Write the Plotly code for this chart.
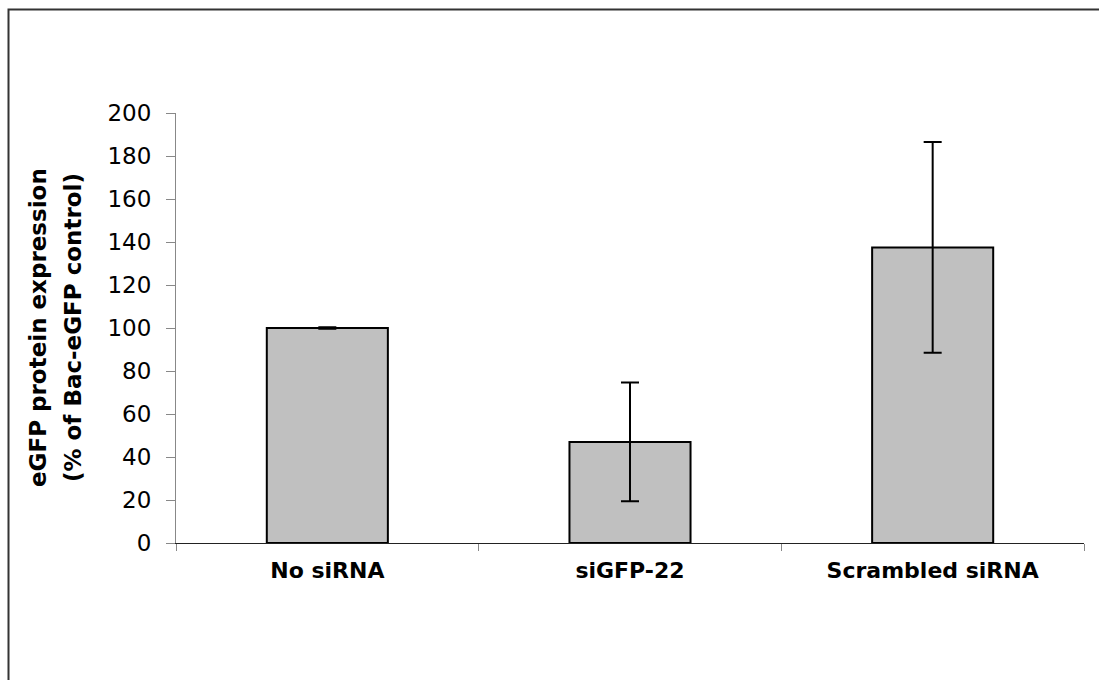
import plotly.graph_objects as go

categories = ["No siRNA", "siGFP-22", "Scrambled siRNA"]
values = [100, 47, 137.5]
errors = [0.3, 27.6, 49]
y_ticks = [0, 20, 40, 60, 80, 100, 120, 140, 160, 180, 200]
y_title_lines = ["eGFP protein expression", "(% of Bac-eGFP control)"]

FONT = "DejaVu Sans"

fig = go.Figure()
fig.add_trace(go.Bar(
    x=categories,
    y=values,
    width=0.4,
    marker=dict(color="#c0c0c0", line=dict(color="black", width=2)),
    error_y=dict(type="data", array=errors, visible=True,
                 color="black", thickness=2, width=9),
    showlegend=False,
))

title_x_px = [38, 73]
annotations = [
    dict(
        text="<b>%s</b>" % line, textangle=-90,
        xref="paper", yref="paper",
        x=(px - 176) / 908, y=0.5,
        xanchor="center", yanchor="middle",
        showarrow=False,
        font=dict(family=FONT, size=23, color="black"),
    )
    for line, px in zip(y_title_lines, title_x_px)
]

fig.update_layout(
    width=1099, height=680,
    margin=dict(l=176, r=15, t=113, b=137),
    paper_bgcolor="white", plot_bgcolor="white",
    font=dict(family=FONT, color="black"),
    xaxis=dict(
        type="category",
        range=[-0.5, 2.5],
        showline=True, linecolor="#222", linewidth=1,
        ticks="outside", tickson="boundaries", ticklen=7,
        tickcolor="#888", tickwidth=1,
        tickfont=dict(family=FONT, size=22, weight="bold", color="black"),
        ticklabelstandoff=8,
        showgrid=False, zeroline=False,
    ),
    yaxis=dict(
        range=[0, 200],
        tickvals=y_ticks,
        showline=True, linecolor="#888", linewidth=1,
        ticks="outside", ticklen=9, tickcolor="#888", tickwidth=1,
        tickfont=dict(family=FONT, size=23, color="black"),
        ticklabelstandoff=10,
        showgrid=False, zeroline=False,
    ),
    annotations=annotations,
    shapes=[dict(
        type="rect", xref="paper", yref="paper",
        x0=(8.5 - 176) / 908, x1=(1120 - 176) / 908,
        y0=(543 - 720) / 430, y1=(543 - 9.5) / 430,
        line=dict(color="#333", width=2), fillcolor="rgba(0,0,0,0)",
    )],
)

fig.write_html("out.html")
